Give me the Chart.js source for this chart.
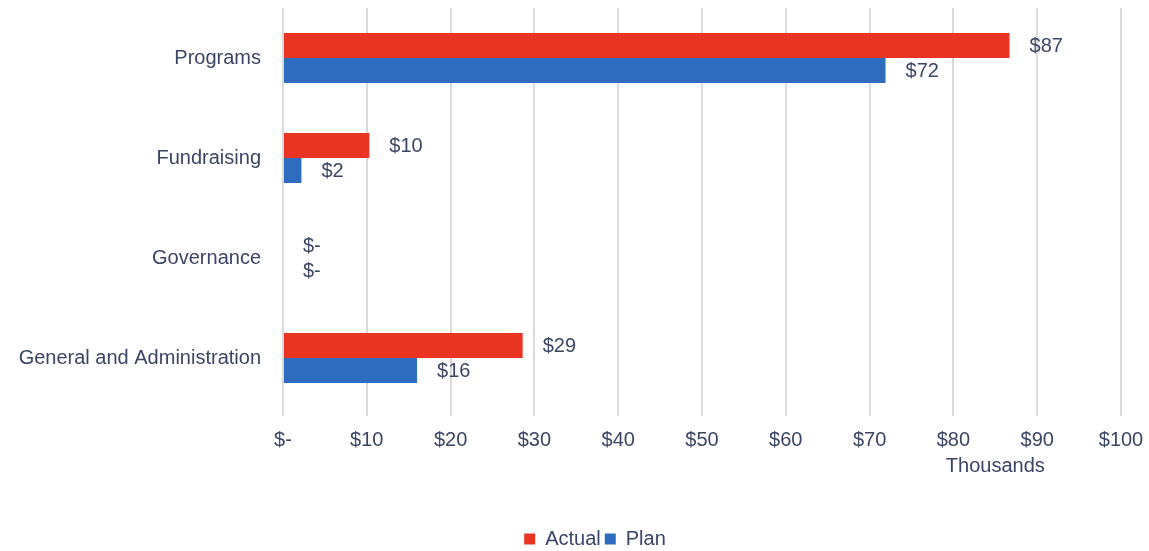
<!DOCTYPE html>
<html>
<head>
<meta charset="utf-8">
<script src="https://cdn.jsdelivr.net/npm/chart.js@4"></script>
<style>
  html, body { margin: 0; padding: 0; background: #fff; }
  #wrap { width: 1149px; height: 551px; }
</style>
</head>
<body>
<div id="wrap"><canvas id="chart"></canvas></div>
<script>
// values in thousands of dollars
const categories = ["Programs", "Fundraising", "Governance", "General and Administration"];
const actualValues = [86.7, 10.3, 0, 28.6];
const planValues = [71.9, 2.2, 0, 16.0];
const xTicks = [0, 10, 20, 30, 40, 50, 60, 70, 80, 90, 100];

const textColor = "#3b4566";
const fontFamily = "'Liberation Sans', Arial, sans-serif";
const fontSize = 20;

function money(v) {
  if (Math.round(v) === 0) return "$-";
  return "$" + Math.round(v);
}

// draws the "$87" style labels right of each bar
const barLabels = {
  id: "barLabels",
  afterDatasetsDraw(chart) {
    const ctx = chart.ctx;
    ctx.save();
    ctx.fillStyle = textColor;
    ctx.font = fontSize + "px " + fontFamily;
    ctx.textAlign = "left";
    ctx.textBaseline = "middle";
    chart.data.datasets.forEach((ds, i) => {
      chart.getDatasetMeta(i).data.forEach((bar, j) => {
        ctx.fillText(money(ds.data[j]), bar.x + 20, bar.y + 1);
      });
    });
    ctx.restore();
  },
};

// "Thousands" display-unit label under the x axis
const unitLabel = {
  id: "unitLabel",
  afterDraw(chart) {
    const x = chart.scales.x;
    const ctx = chart.ctx;
    ctx.save();
    ctx.fillStyle = textColor;
    ctx.font = fontSize + "px " + fontFamily;
    ctx.textAlign = "center";
    ctx.textBaseline = "middle";
    ctx.fillText("Thousands", x.getPixelForValue(85), x.top + 58);
    ctx.restore();
  },
};

// the legend in the original sits a bit right of centre
const legendShift = {
  id: "legendShift",
  afterLayout(chart) {
    chart.legend.left += 30;
    chart.legend.right += 30;
  },
};

new Chart(document.getElementById("chart"), {
  type: "bar",
  data: {
    labels: categories,
    datasets: [
      {
        label: "Actual",
        data: actualValues,
        backgroundColor: "#e93424",
        categoryPercentage: 0.5,
        barPercentage: 1,
      },
      {
        label: "Plan",
        data: planValues,
        backgroundColor: "#2e6dbd",
        categoryPercentage: 0.5,
        barPercentage: 1,
      },
    ],
  },
  options: {
    indexAxis: "y",
    responsive: true,
    maintainAspectRatio: false,
    animation: false,
    layout: { padding: { top: 8, left: 9, right: 28, bottom: -8 } },
    scales: {
      x: {
        min: 0,
        max: 100,
        afterBuildTicks(scale) {
          scale.ticks = xTicks.map((v) => ({ value: v }));
        },
        afterFit(scale) {
          scale.height = 117;
          scale.paddingLeft = 0;
          scale.paddingRight = 0;
        },
        border: { display: false },
        grid: { color: "#d9d9d9", lineWidth: 2, tickLength: 8 },
        ticks: {
          padding: 12,
          color: textColor,
          font: { size: fontSize, family: fontFamily },
          callback: (v) => money(v),
        },
      },
      y: {
        afterFit(scale) {
          scale.paddingTop = 0;
          scale.paddingBottom = 0;
          scale.width = 274;
        },
        border: { display: false },
        grid: { display: false },
        ticks: {
          padding: 14,
          color: textColor,
          font: { size: fontSize, family: fontFamily },
        },
      },
    },
    plugins: {
      tooltip: { enabled: false },
      legend: {
        position: "bottom",
        labels: {
          color: textColor,
          font: { size: fontSize, family: fontFamily },
          boxWidth: 11,
          boxHeight: 11,
          padding: 4,
        },
      },
    },
  },
  plugins: [barLabels, unitLabel, legendShift],
});
</script>
</body>
</html>
